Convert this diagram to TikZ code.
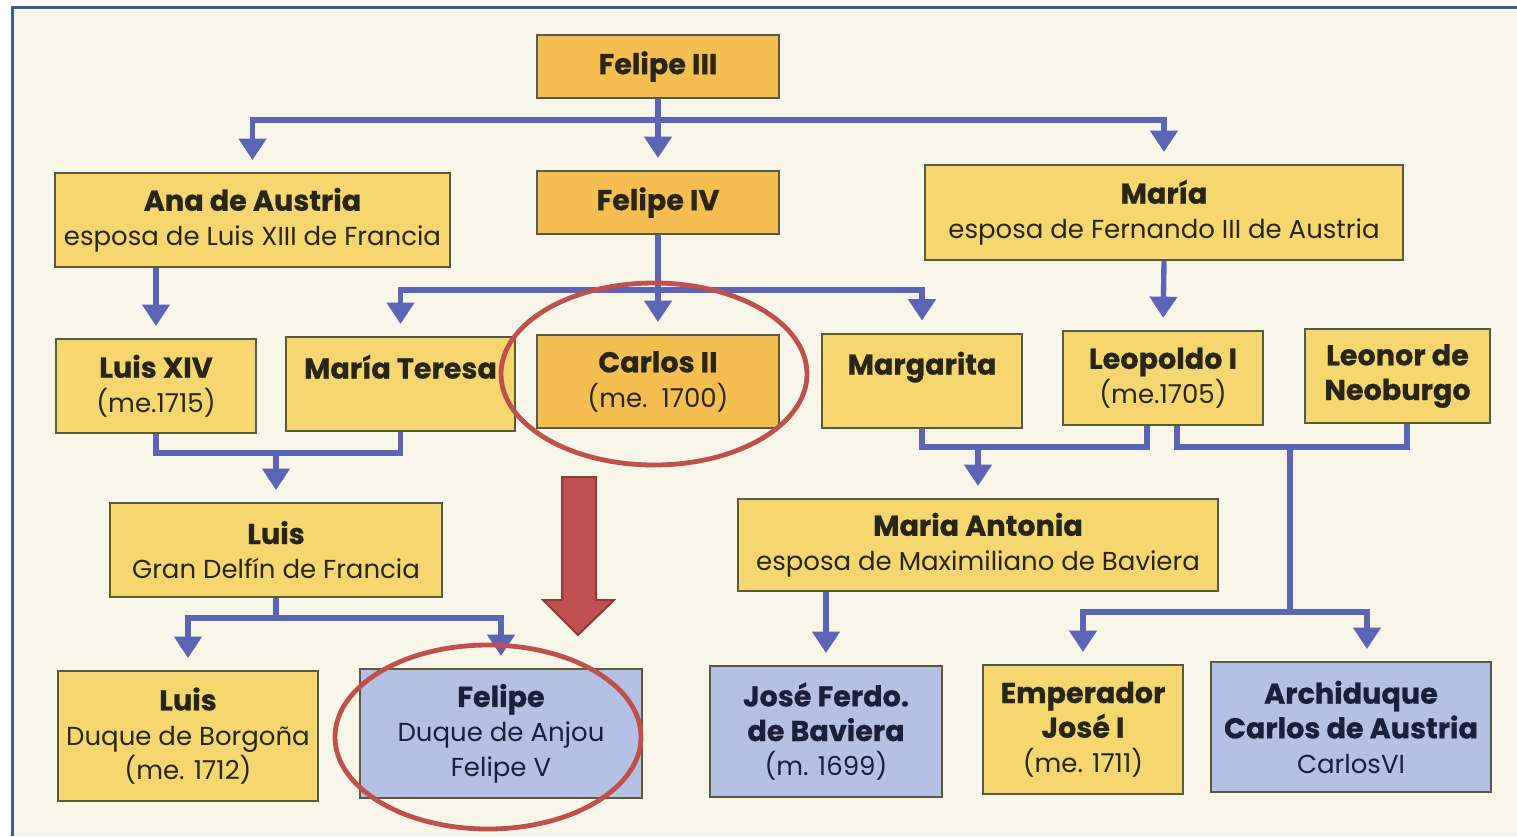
\documentclass[tikz,border=0pt]{standalone}
\usepackage{fontspec}
\setmainfont{Poppins}[BoldFeatures={FakeBold=0.8}]
\usetikzlibrary{arrows.meta}

\definecolor{papel}{RGB}{248,245,233}
\definecolor{marcoazul}{RGB}{58,94,156}
\definecolor{amarillo}{RGB}{246,214,110}
\definecolor{naranja}{RGB}{245,190,80}
\definecolor{azulclaro}{RGB}{180,192,228}
\definecolor{borde}{RGB}{92,90,62}
\definecolor{tinta}{RGB}{40,38,26}
\definecolor{tintaazul}{RGB}{26,32,60}
\definecolor{conector}{RGB}{92,100,181}
\definecolor{rojo}{RGB}{192,80,77}
\definecolor{rojooscuro}{RGB}{140,58,55}

\newcommand{\nombre}[1]{{\fontsize{21.5}{26}\selectfont\bfseries #1}}

\tikzset{every picture/.style={line width=0.75pt}}
\tikzset{
  persona/.style={draw=borde, line width=1.5pt, fill=amarillo, text=tinta,
    align=center, inner sep=0pt, font=\fontsize{19.5}{26}\selectfont},
  rey/.style={persona, fill=naranja},
  heredero/.style={persona, fill=azulclaro, text=tintaazul},
  linea/.style={draw=conector, line width=4pt},
  flecha/.style={linea, -{Triangle[width=20pt,length=16pt]}, shorten >=9pt},
  circulo/.style={draw=rojo, line width=3.6pt},
}

\begin{document}
\begin{tikzpicture}[x=0.75pt,y=0.75pt,yscale=-1,xscale=1]
\useasboundingbox (0,0) rectangle (1517,836);
%Shape: Background
\fill [white] (0,0) rectangle (1517,836);
\fill [papel] (12,7) rectangle (1517,836);
\draw [marcoazul, line width=2.25pt] (12,836) -- (12,7) -- (1517,7);

% Text Node
\node [rey, minimum width=181.5pt, minimum height=47.25pt] (felipeIII) at (658,66.5) {\nombre{Felipe III}};
% Text Node
\node [rey, minimum width=181.5pt, minimum height=47.25pt] (felipeIV) at (658,202.5) {\nombre{Felipe IV}};
% Text Node
\node [persona, minimum width=296.25pt, minimum height=70.5pt] (ana) at (252.5,220) {\nombre{Ana de Austria}\\esposa de Luis XIII de Francia};
% Text Node
\node [persona, minimum width=358.5pt, minimum height=71.25pt] (maria) at (1164,212.5) {\nombre{María}\\esposa de Fernando III de Austria};
% Text Node
\node [persona, minimum width=150pt, minimum height=70.5pt] (luisXIV) at (156,386) {\nombre{Luis XIV}\\(me.1715)};
% Text Node
\node [persona, minimum width=171.75pt, minimum height=70.5pt] (mariaTeresa) at (400.5,384) {\nombre{María Teresa}\\~};
% Text Node
\node [rey, minimum width=181.5pt, minimum height=69.75pt] (carlosII) at (658,381.5) {\nombre{Carlos II}\\(me.\ \ 1700)};
% Text Node
\node [persona, minimum width=150pt, minimum height=70.5pt] (margarita) at (922,380.5) {\nombre{Margarita}\\~};
% Text Node
\node [persona, minimum width=150pt, minimum height=70.5pt] (leopoldo) at (1163,378) {\nombre{Leopoldo I}\\(me.1705)};
% Text Node
\node [persona, minimum width=138.75pt, minimum height=70.5pt] (leonor) at (1397.5,376) {\nombre{Leonor de}\\\nombre{Neoburgo}};
% Text Node
\node [persona, minimum width=249pt, minimum height=70.5pt] (luisG) at (276,550) {\nombre{Luis}\\Gran Delfín de Francia};
% Text Node
\node [persona, minimum width=360pt, minimum height=69pt] (mariaAntonia) at (978,545) {\nombre{Maria Antonia}\\esposa de Maximiliano de Baviera};
% Text Node
\node [persona, minimum width=195pt, minimum height=97.5pt] (luisB) at (188,736) {\nombre{Luis}\\Duque de Borgoña\\(me. 1712)};
% Text Node
\node [heredero, minimum width=211.5pt, minimum height=96.75pt] (felipeV) at (501,733.5) {\nombre{Felipe}\\Duque de Anjou\\Felipe V};
% Text Node
\node [heredero, minimum width=174pt, minimum height=98.25pt] (joseF) at (826,731.5) {\nombre{José Ferdo.}\\\nombre{de Baviera}\\(m. 1699)};
% Text Node
\node [persona, minimum width=150pt, minimum height=96.75pt] (emperador) at (1083,729.5) {\nombre{Emperador}\\\nombre{José I}\\(me. 1711)};
% Text Node
\node [heredero, minimum width=210pt, minimum height=97.5pt] (archiduque) at (1351,727) {\nombre{Archiduque}\\\nombre{Carlos de Austria}\\CarlosVI};

\coordinate (rama1) at (658,120);
\coordinate (rama2) at (658,290);
\coordinate (nudo1) at (276,453);
\coordinate (nudo2) at (978,447);
\coordinate (nudo3) at (1290,447);
\coordinate (nudo4) at (1290,612);
\coordinate (nudo5) at (276,618);

%Straight Lines
\draw [flecha] (felipeIII.south) -- (felipeIV.north);
\draw [flecha] (rama1) -| (ana.north);
\draw [flecha] (rama1) -| (maria.north);
%Straight Lines
\draw [flecha] (felipeIV.south) -- (carlosII.north);
\draw [flecha] (rama2) -| (mariaTeresa.north);
\draw [flecha] (rama2) -| (margarita.north);
%Straight Lines
\draw [flecha] (luisXIV.north |- ana.south) -- (luisXIV.north);
\draw [flecha] (maria.south) -- (leopoldo.north);
%Straight Lines
\draw [linea] (luisXIV.south) |- (nudo1) -| (mariaTeresa.south);
\draw [flecha] (nudo1) -- (luisG.north);
\draw [linea] (margarita.south) |- (nudo2) -| ([xshift=-12pt]leopoldo.south);
\draw [flecha] (nudo2) -- (mariaAntonia.north);
%Straight Lines
\draw [linea] ([xshift=10.5pt]leopoldo.south) |- (nudo3) -| ([xshift=7pt]leonor.south);
\draw [linea] (nudo3) -- (nudo4);
\draw [flecha] (nudo4) -| (emperador.north);
\draw [flecha] (nudo4) -| ([xshift=12pt]archiduque.north);
%Straight Lines
\draw [linea] (luisG.south) -- (nudo5);
\draw [flecha] (nudo5) -| (luisB.north);
\draw [flecha] (nudo5) -| (felipeV.north);
\draw [flecha] (joseF.north |- mariaAntonia.south) -- (joseF.north);

%Shape: Block Arrow
\draw [fill=rojo, draw=rojooscuro, line width=1.5pt] (562,477) -- (596,477) -- (596,600) -- (614,600) -- (578,635) -- (543,600) -- (562,600) -- cycle;
%Shape: Ellipse
\draw [circulo] (654,374) ellipse [x radius=153, y radius=91];
%Shape: Ellipse
\draw [circulo] (488,737) ellipse [x radius=153, y radius=92];

\end{tikzpicture}
\end{document}
